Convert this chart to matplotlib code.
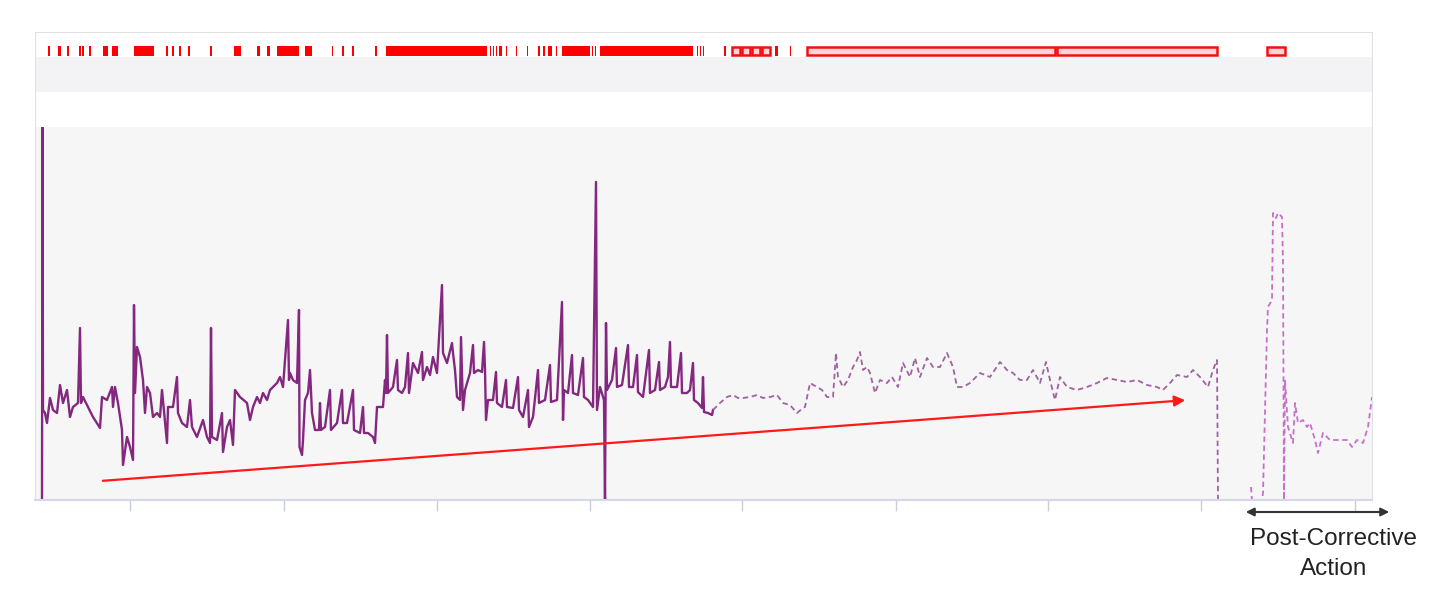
import numpy as np
import matplotlib.pyplot as plt
from matplotlib.patches import Rectangle

# time index (samples) and metric value for the solid (observed) segment
solid_t = [7, 7.5, 8, 10, 12, 15, 18, 22, 25, 28, 32, 35, 38, 43, 45, 46, 48, 53, 58, 65, 67, 72, 77, 78, 80, 83,
           87, 88, 92, 95, 98, 99, 100, 102, 105, 108, 110, 112, 115, 118, 122, 125, 127, 132, 133, 138, 142, 143,
           147, 152, 155, 157, 162, 168, 172, 175, 176, 177, 182, 187, 188, 192, 195, 198, 200, 205, 212, 215, 218,
           222, 225, 228, 232, 235, 242, 245, 248, 253, 254, 255, 258, 262, 264, 264.5, 267, 268, 270, 273, 275, 277,
           280, 284, 285, 286, 290, 295, 296, 302, 307, 308, 312, 318, 319, 325, 328, 329, 333, 338, 340, 342, 348,
           350, 351, 352, 353, 358, 362, 363, 367, 370, 373, 374, 378, 383, 387, 388, 392, 395, 398, 402, 407, 408,
           412, 417, 418, 420, 422, 425, 426, 428, 430, 435, 438, 439, 443, 447, 449, 450, 451, 453, 458, 461, 462,
           467, 471, 472, 478, 483, 484, 488, 493, 494, 498, 503, 504, 510, 515, 516, 522, 527, 528, 529, 533, 537,
           538, 543, 548, 549, 553, 558, 561, 562, 565, 569, 570, 571, 572, 577, 581, 582, 587, 593, 594, 598, 602,
           603, 608, 614, 615, 620, 624, 625, 630, 633, 635, 636, 642, 646, 647, 652, 655, 658, 659, 663, 667, 668,
           669, 673, 677, 678]
solid_v = [0, 373, 90, 87, 77, 102, 90, 87, 115, 97, 110, 83, 93, 97, 172, 97, 103, 93, 83, 72, 103, 100, 113, 93,
           113, 97, 70, 35, 63, 53, 40, 195, 107, 153, 143, 120, 87, 113, 107, 83, 87, 83, 110, 57, 93, 93, 123, 87,
           77, 73, 100, 73, 63, 80, 63, 57, 172, 63, 60, 87, 48, 73, 80, 55, 110, 103, 97, 80, 93, 103, 97, 107, 100,
           110, 117, 123, 113, 180, 120, 127, 120, 117, 190, 53, 45, 60, 100, 107, 130, 87, 70, 70, 97, 70, 73, 110,
           70, 77, 110, 77, 77, 110, 70, 67, 93, 67, 67, 63, 57, 93, 93, 120, 107, 165, 107, 113, 140, 110, 107, 113,
           147, 107, 137, 127, 148, 120, 133, 125, 143, 127, 215, 147, 137, 157, 147, 130, 103, 100, 163, 90, 110,
           127, 155, 127, 130, 128, 158, 130, 80, 100, 100, 128, 97, 93, 120, 93, 92, 123, 90, 83, 110, 73, 83, 130,
           97, 100, 135, 98, 100, 198, 80, 110, 107, 145, 107, 105, 142, 103, 100, 93, 318, 90, 113, 100, 0, 177,
           110, 120, 152, 113, 115, 155, 113, 113, 145, 108, 103, 150, 107, 110, 138, 110, 113, 123, 158, 113, 113,
           147, 107, 107, 110, 137, 100, 97, 92, 123, 88, 87, 85, 90]

# dashed segment (sparser data) before the outage
dashed_t = [678, 685, 692, 698, 703, 708, 715, 722, 728, 735, 742, 748, 755, 762, 768, 770, 775, 782, 787, 792, 798,
            801, 803, 808, 813, 818, 822, 825, 828, 832, 835, 840, 845, 852, 857, 863, 868, 875, 880, 885, 892, 898,
            905, 912, 918, 922, 928, 935, 945, 955, 965, 972, 978, 985, 992, 998, 1005, 1011, 1015, 1020, 1025, 1032,
            1042, 1052, 1062, 1072, 1082, 1092, 1102, 1112, 1122, 1128, 1135, 1142, 1152, 1158, 1165, 1173, 1178,
            1182, 1183]
dashed_v = [90, 97, 103, 105, 102, 102, 103, 105, 102, 103, 105, 97, 95, 87, 92, 93, 117, 113, 110, 103, 103, 147,
            123, 113, 120, 133, 140, 148, 130, 133, 127, 107, 120, 117, 123, 113, 137, 123, 142, 123, 142, 133, 133,
            147, 133, 113, 113, 117, 127, 123, 138, 130, 127, 120, 120, 130, 117, 138, 120, 100, 123, 113, 110, 113,
            117, 122, 120, 118, 120, 115, 113, 110, 117, 125, 123, 130, 123, 113, 130, 140, 0]

# post-corrective-action segment
post_t = [1216, 1217, 1227, 1228, 1232, 1233, 1237, 1238, 1241, 1243, 1247, 1248, 1249, 1250, 1253, 1258, 1260, 1263,
          1268, 1272, 1275, 1280, 1283, 1288, 1295, 1302, 1312, 1317, 1322, 1328, 1333, 1337]
post_v = [13, 0, 0, 7, 170, 193, 200, 287, 282, 287, 283, 237, 0, 120, 73, 57, 97, 77, 80, 73, 77, 60, 47, 67, 60,
          60, 60, 53, 60, 57, 73, 103]

# alert strip: solid events and ongoing (hollow) events, start/end in time index
event_start = [13, 23, 32, 44, 47, 54, 68, 77, 99, 131, 137, 144, 153, 175, 199, 222, 232, 242, 270, 297, 307, 317,
               340, 351, 455, 458, 461, 464, 471, 481, 492, 503, 508, 513, 521, 527, 557, 560, 565, 662, 665, 668,
               689, 740, 755]
event_end = [15, 26, 34, 46, 49, 56, 73, 83, 119, 133, 139, 146, 155, 177, 206, 225, 235, 264, 277, 298, 309, 319,
             342, 452, 456, 459, 462, 467, 472, 482, 493, 505, 510, 517, 522, 555, 558, 561, 658, 663, 666, 669,
             691, 743, 756]
open_start = [697, 707, 717, 727, 772, 1022, 1232]
open_end = [705, 715, 725, 735, 1020, 1182, 1250]

tick_pos = [95, 249, 402, 555, 707, 861, 1013, 1166, 1320]

W, H = 1430, 605
fig = plt.figure(figsize=(W / 100, H / 100), dpi=100)
plt.rcParams['font.family'] = ['Liberation Sans', 'DejaVu Sans']

edge = '#e2e2e6'

# main chart
ax = fig.add_axes([35 / W, 1 - 500 / H, 1337 / W, 373 / H])
ax.set_facecolor('#f6f6f7')
ax.plot(solid_t, solid_v, color='#84287f', lw=1.7)
ax.plot(dashed_t, dashed_v, color='#a062a0', lw=1.3, dashes=(3, 2))
ax.plot(post_t, post_v, color='#c870c8', lw=1.3, dashes=(3, 2))
ax.annotate('', xy=(1153, 100), xytext=(65, 19),
            arrowprops=dict(arrowstyle='-|>', color='#ff1a1a', lw=1.6, mutation_scale=16))
ax.set_xlim(0, 1337)
ax.set_ylim(0, 373)
ax.set_xticks(tick_pos)
ax.set_xticklabels([])
ax.set_yticks([])
ax.tick_params(axis='x', length=8, color='#c9cde0', width=1)
ax.spines['bottom'].set_color('#d3d7ea')
ax.spines['bottom'].set_linewidth(1.5)
ax.spines['left'].set_color(edge)
ax.spines['right'].set_color(edge)
ax.spines['top'].set_visible(False)

# alert strip above
sx = fig.add_axes([35 / W, 1 - 127 / H, 1337 / W, 95 / H])
sx.set_xlim(0, 1337)
sx.set_ylim(95, 0)
sx.axhspan(25, 60, color='#f3f3f5', lw=0)
for s, e in zip(event_start, event_end):
    sx.add_patch(Rectangle((s, 14), e - s, 10, facecolor='#ff0000', edgecolor='none'))
for s, e in zip(open_start, open_end):
    sx.add_patch(Rectangle((s, 15), e - s, 8, facecolor='#ffd4d4', edgecolor='#ee1111', lw=1.8))
sx.set_xticks([])
sx.set_yticks([])
for k in ['left', 'right', 'top']:
    sx.spines[k].set_color(edge)
sx.spines['bottom'].set_visible(False)

# post-corrective annotation below the chart
ax.annotate('', xy=(1392 / W, 1 - 512 / H), xytext=(1243 / W, 1 - 512 / H),
            xycoords='figure fraction', textcoords='figure fraction',
            arrowprops=dict(arrowstyle='<|-|>', color='#333333', lw=1.5, mutation_scale=12),
            annotation_clip=False)
fig.text(1334 / W, 1 - 554 / H, 'Post-Corrective\nAction', ha='center', va='center',
         fontsize=17.5, color='#222222', linespacing=1.45)

fig.savefig('out.png', dpi=100, facecolor='white')
